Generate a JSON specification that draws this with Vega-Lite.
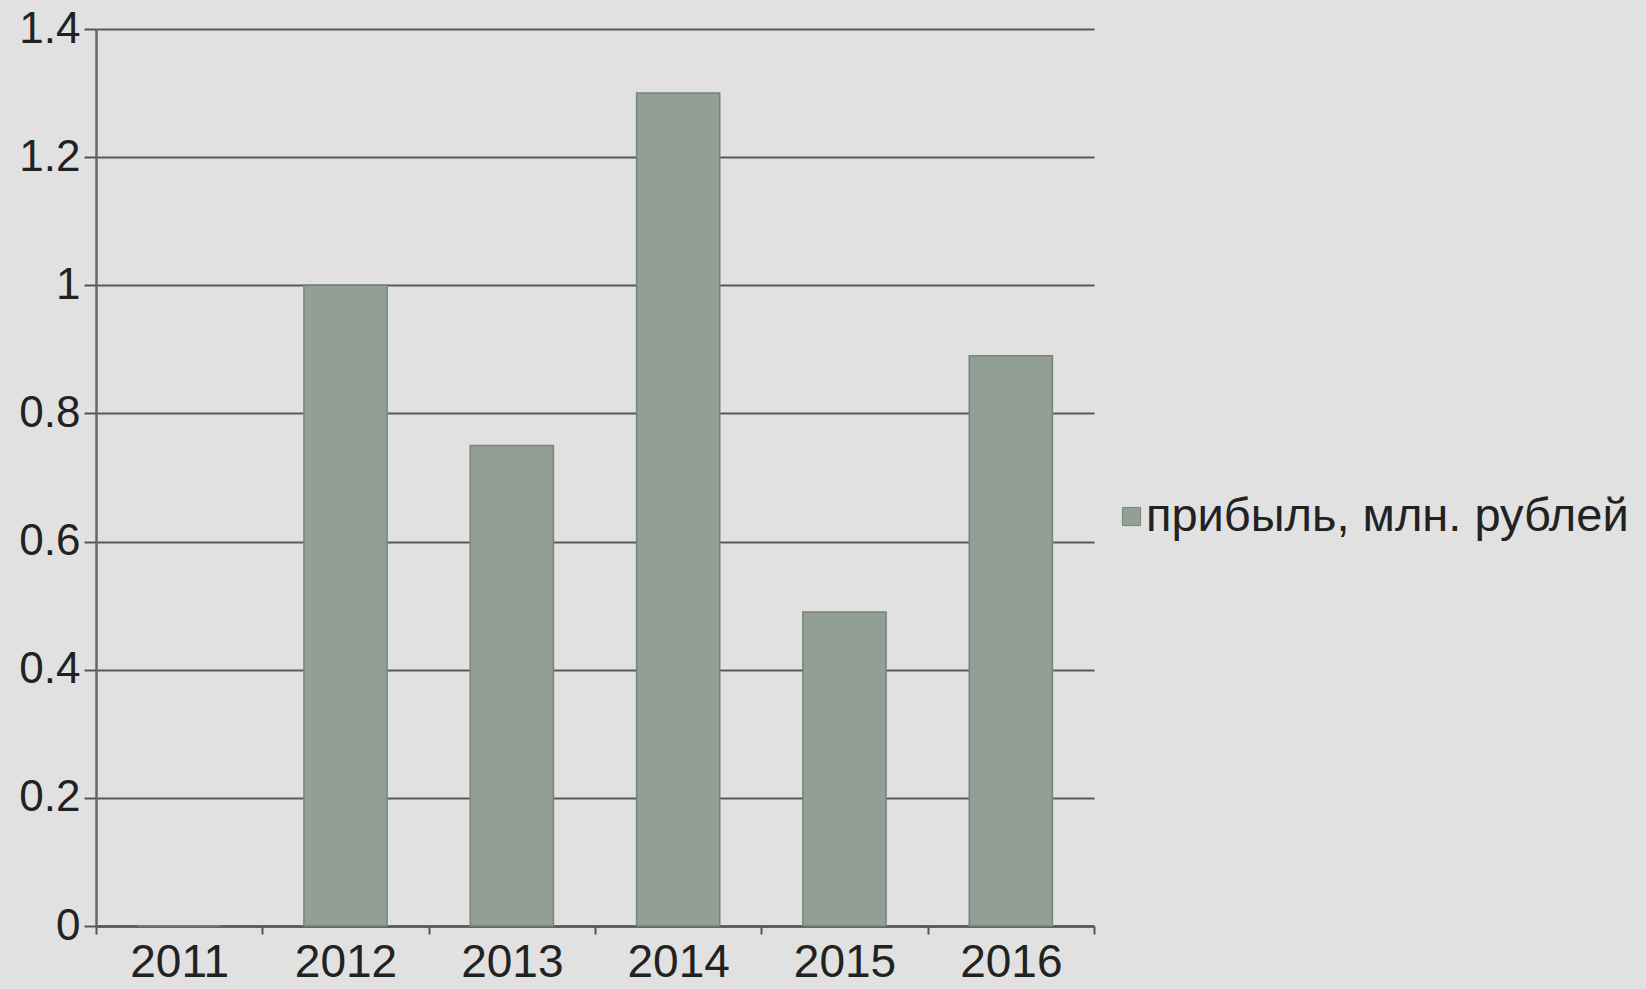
{
  "$schema": "https://vega.github.io/schema/vega-lite/v6.json",
  "autosize": {"type": "none"},
  "padding": {"left": 96, "top": 29, "right": 552, "bottom": 63},
  "width": 998,
  "height": 897,
  "background": "#e1e1e1",
  "config": {
    "view": {"stroke": null},
    "font": "Liberation Sans"
  },
  "data": {
    "values": [
      {"year": "2011", "profit": 0, "series": "прибыль, млн. рублей"},
      {"year": "2012", "profit": 1.0, "series": "прибыль, млн. рублей"},
      {"year": "2013", "profit": 0.75, "series": "прибыль, млн. рублей"},
      {"year": "2014", "profit": 1.3, "series": "прибыль, млн. рублей"},
      {"year": "2015", "profit": 0.49, "series": "прибыль, млн. рублей"},
      {"year": "2016", "profit": 0.89, "series": "прибыль, млн. рублей"}
    ]
  },
  "mark": {"type": "bar", "stroke": "#788380", "strokeWidth": 1.5, "width": {"band": 0.5}},
  "encoding": {
    "x": {
      "field": "year",
      "type": "ordinal",
      "scale": {"paddingInner": 0, "paddingOuter": 0},
      "axis": {
        "title": null,
        "labelAngle": 0,
        "labelFontSize": 46,
        "labelColor": "#222222",
        "labelPadding": 6,
        "tickBand": "extent",
        "tickSize": 8,
        "tickWidth": 2,
        "tickColor": "#555555",
        "domainColor": "#555555",
        "domainWidth": 2.5
      }
    },
    "y": {
      "field": "profit",
      "type": "quantitative",
      "scale": {"domain": [0, 1.4], "nice": false},
      "axis": {
        "title": null,
        "values": [0, 0.2, 0.4, 0.6, 0.8, 1, 1.2, 1.4],
        "format": "~g",
        "labelFontSize": 44,
        "labelColor": "#222222",
        "labelPadding": 4,
        "tickSize": 12,
        "tickWidth": 2,
        "tickColor": "#555555",
        "domainColor": "#666666",
        "domainWidth": 2.5,
        "grid": true,
        "gridColor": "#5a5a5a",
        "gridWidth": 2
      }
    },
    "color": {
      "field": "series",
      "type": "nominal",
      "scale": {"range": ["#919f95"]},
      "legend": {
        "title": null,
        "orient": "none",
        "legendX": 1012,
        "legendY": 464,
        "symbolType": "square",
        "symbolSize": 330,
        "symbolStrokeColor": "#788380",
        "symbolStrokeWidth": 1,
        "labelFontSize": 47,
        "labelColor": "#222222",
        "labelOffset": -9,
        "labelLimit": 1000
      }
    }
  }
}
